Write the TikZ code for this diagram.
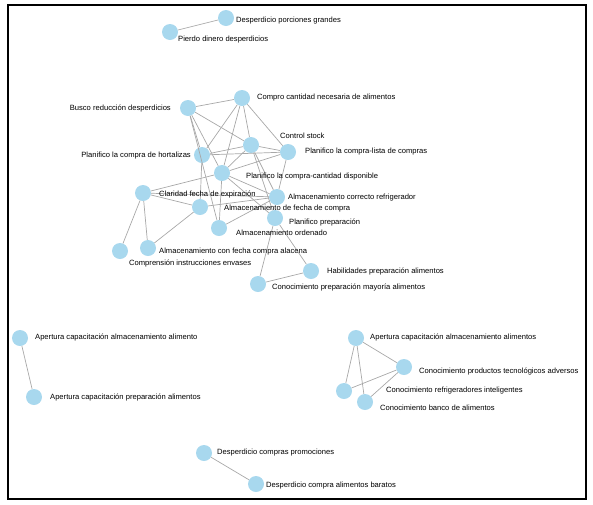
\documentclass[tikz,border=0pt]{standalone}
\usepackage{fontspec}
\setmainfont{Liberation Sans}
\usetikzlibrary{positioning}
\definecolor{nodeblue}{HTML}{A8D8EE}
\definecolor{edgegray}{HTML}{A8A8A8}

\begin{document}
\begin{tikzpicture}[x=1pt,y=-1pt]
		\tikzstyle{concept} = [circle, fill=nodeblue, minimum size=16pt, inner sep=0pt]
		\tikzstyle{tag} = [anchor=west, inner sep=0pt, font=\fontsize{7.6}{9}\selectfont]
		\tikzstyle{link} = [draw=edgegray, line width=0.7pt]

		\useasboundingbox (0,0) rectangle (593,504);
		\draw[line width=1.1pt] (8,5) rectangle (586,499);

		% grupo superior
		\node (porciones) [concept] at (226,18) {};
		\node (dinero) [concept] at (170,32) {};

		% grupo central
		\node (compro) [concept] at (242,98) {};
		\node (busco) [concept] at (188,108) {};
		\node (stock) [concept] at (251,145) {};
		\node (lista) [concept] at (288,152) {};
		\node (hortalizas) [concept] at (202,155) {};
		\node (disponible) [concept] at (222,173) {};
		\node (claridad) [concept] at (143,193) {};
		\node (fechaCompra) [concept] at (200,207) {};
		\node (refrigerador) [concept] at (277,197) {};
		\node (preparacion) [concept] at (275,218) {};
		\node (ordenado) [concept] at (219,228) {};
		\node (alacena) [concept] at (148,248) {};
		\node (envases) [concept] at (120,251) {};
		\node (habilidades) [concept] at (311,271) {};
		\node (mayoria) [concept] at (258,284) {};

		% grupo izquierdo
		\node (aperturaAlm) [concept] at (20,338) {};
		\node (aperturaPrep) [concept] at (34,397) {};

		% grupo derecho
		\node (aperturaAlms) [concept] at (356,338) {};
		\node (tecnologicos) [concept] at (404,367) {};
		\node (inteligentes) [concept] at (344,391) {};
		\node (banco) [concept] at (365,402) {};

		% grupo inferior
		\node (promociones) [concept] at (204,453) {};
		\node (baratos) [concept] at (256,484) {};

		\draw [link] (porciones) -- (dinero);

		\draw [link] (busco) -- (compro);
		\draw [link] (busco) -- (stock);
		\draw [link] (busco) -- (hortalizas);
		\draw [link] (busco) -- (disponible);
		\draw [link] (busco) -- (ordenado);
		\draw [link] (compro) -- (hortalizas);
		\draw [link] (compro) -- (disponible);
		\draw [link] (compro) -- (stock);
		\draw [link] (compro) -- (lista);
		\draw [link] (hortalizas) -- (stock);
		\draw [link] (hortalizas) -- (lista);
		\draw [link] (hortalizas) -- (fechaCompra);
		\draw [link] (stock) -- (lista);
		\draw [link] (stock) -- (disponible);
		\draw [link] (stock) -- (refrigerador);
		\draw [link] (stock) -- (preparacion);
		\draw [link] (lista) -- (disponible);
		\draw [link] (lista) -- (refrigerador);
		\draw [link] (disponible) -- (claridad);
		\draw [link] (disponible) -- (refrigerador);
		\draw [link] (disponible) -- (preparacion);
		\draw [link] (disponible) -- (ordenado);
		\draw [link] (claridad) -- (fechaCompra);
		\draw [link] (claridad) -- (refrigerador);
		\draw [link] (claridad) -- (envases);
		\draw [link] (claridad) -- (alacena);
		\draw [link] (fechaCompra) -- (refrigerador);
		\draw [link] (fechaCompra) -- (alacena);
		\draw [link] (ordenado) -- (refrigerador);
		\draw [link] (preparacion) -- (mayoria);
		\draw [link] (preparacion) -- (habilidades);
		\draw [link] (habilidades) -- (mayoria);

		\draw [link] (aperturaAlm) -- (aperturaPrep);

		\draw [link] (aperturaAlms) -- (tecnologicos);
		\draw [link] (aperturaAlms) -- (inteligentes);
		\draw [link] (aperturaAlms) -- (banco);
		\draw [link] (tecnologicos) -- (inteligentes);
		\draw [link] (tecnologicos) -- (banco);

		\draw [link] (promociones) -- (baratos);

		% etiquetas
		\node (porcionesLabel) [tag] at (236,21) {Desperdicio porciones grandes};
		\node (dineroLabel) [tag] at (178,40) {Pierdo dinero desperdicios};
		\node (comproLabel) [tag] at (257,98) {Compro cantidad necesaria de alimentos};
		\node (buscoLabel) [tag, anchor=east] at (171,108) {Busco reducción desperdicios};
		\node (stockLabel) [tag] at (280,136) {Control stock};
		\node (listaLabel) [tag] at (305,152) {Planifico la compra-lista de compras};
		\node (hortalizasLabel) [tag, anchor=east] at (191,156) {Planifico la compra de hortalizas};
		\node (disponibleLabel) [tag] at (246,177) {Planifico la compra-cantidad disponible};
		\node (claridadLabel) [tag] at (159,194) {Claridad fecha de expiración};
		\node (refrigeradorLabel) [tag] at (288,198) {Almacenamiento correcto refrigerador};
		\node (fechaCompraLabel) [tag] at (224,209) {Almacenamiento de fecha de compra};
		\node (preparacionLabel) [tag] at (289,222) {Planifico preparación};
		\node (ordenadoLabel) [tag] at (236,233) {Almacenamiento ordenado};
		\node (alacenaLabel) [tag] at (159,252) {Almacenamiento con fecha compra alacena};
		\node (envasesLabel) [tag] at (129,263) {Comprensión instrucciones envases};
		\node (habilidadesLabel) [tag] at (327,271) {Habilidades preparación alimentos};
		\node (mayoriaLabel) [tag] at (272,287) {Conocimiento preparación mayoría alimentos};
		\node (aperturaAlmLabel) [tag] at (35,337) {Apertura capacitación almacenamiento alimento};
		\node (aperturaPrepLabel) [tag] at (50,397) {Apertura capacitación preparación alimentos};
		\node (aperturaAlmsLabel) [tag] at (370,337) {Apertura capacitación almacenamiento alimentos};
		\node (tecnologicosLabel) [tag] at (419,371) {Conocimiento productos tecnológicos adversos};
		\node (inteligentesLabel) [tag] at (386,391) {Conocimiento refrigeradores inteligentes};
		\node (bancoLabel) [tag] at (380,408) {Conocimiento banco de alimentos};
		\node (promocionesLabel) [tag] at (217,453) {Desperdicio compras promociones};
		\node (baratosLabel) [tag] at (266,486) {Desperdicio compra alimentos baratos};
	\end{tikzpicture}
\end{document}
